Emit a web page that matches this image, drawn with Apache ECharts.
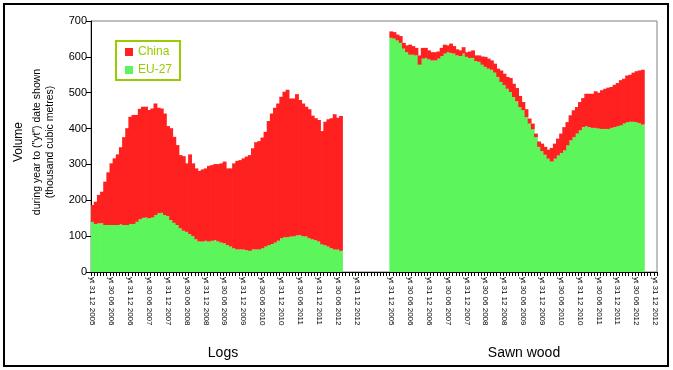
<!DOCTYPE html>
<html><head><meta charset="utf-8">
<script src="https://cdn.jsdelivr.net/npm/echarts@6/dist/echarts.min.js"></script>
<style>html,body{margin:0;padding:0;background:#fff}#c{width:673px;height:370px}</style>
</head><body><div id="c"></div>
<script>
const groups = ['Logs', 'Sawn wood'];
const seriesNames = ['China', 'EU-27'];
const tickLabels = ['yt 31 12 2005','yt 30 06 2006','yt 31 12 2006','yt 30 06 2007','yt 31 12 2007','yt 30 06 2008','yt 31 12 2008','yt 30 06 2009','yt 31 12 2009','yt 30 06 2010','yt 31 12 2010','yt 30 06 2011','yt 31 12 2011','yt 30 06 2012','yt 31 12 2012'];
const monthsPerGroup = 85;
const gapSlots = 10;

const logsEU = [140,134,136,136,131,131,131,131,131,133,131,131,134,134,140,147,151,152,150,152,159,164,165,159,156,145,137,131,122,115,112,106,100,91,85,85,87,85,87,89,85,82,80,75,71,66,63,63,63,61,59,63,63,63,66,71,75,78,82,87,94,97,97,99,100,102,103,100,99,94,91,89,85,77,75,71,66,63,63,59];
const logsChina = [47,62,79,88,121,147,172,186,197,215,245,270,299,304,298,308,310,309,302,304,311,294,291,283,251,256,240,223,204,208,191,222,203,198,197,201,202,211,211,212,216,221,228,214,218,237,247,249,254,261,267,282,299,302,309,320,346,364,376,383,395,406,411,385,384,394,377,370,362,360,345,340,339,316,344,355,363,377,367,376];
const sawnEU = [653,651,646,639,623,613,606,606,604,578,595,597,593,590,590,595,602,609,613,611,609,604,602,609,600,597,597,588,586,578,572,567,564,556,544,530,521,511,502,488,476,460,451,432,414,398,376,349,337,327,316,308,316,325,332,339,353,367,376,386,395,404,407,404,402,402,400,399,399,399,402,404,407,409,414,418,419,419,418,415,411];
const sawnChina = [18,18,16,19,16,19,28,24,21,26,30,28,25,23,23,20,23,25,19,26,21,17,16,18,13,18,21,16,18,23,28,28,26,25,23,32,32,33,39,37,37,31,23,22,14,16,10,15,21,22,25,38,42,47,54,65,65,70,75,74,79,81,90,93,95,102,100,108,112,115,114,118,120,126,125,130,131,137,142,147,153];

// 180-slot category axis: Logs (85) + gap (10) + Sawn wood (85)
const total = monthsPerGroup * 2 + gapSlots;
const off = monthsPerGroup + gapSlots;
const cats = [], labels = [];
for (let i = 0; i < total; i++) {
  cats.push('c' + i);
  let k = -1;
  if (i < monthsPerGroup) k = i;
  else if (i >= off) k = i - off;
  labels.push(k >= 0 && k % 6 === 0 ? tickLabels[k / 6] : '');
}
// stacked segments [category, base, top]
const euRows = [], chinaRows = [];
function addGroup(start, eu, cn) {
  eu.forEach((v, k) => {
    euRows.push([start + k, 0, v]);
    chinaRows.push([start + k, v, v + cn[k]]);
  });
}
addGroup(0, logsEU, logsChina);
addGroup(off, sawnEU, sawnChina);

const FONT = 'Liberation Sans, Arial, sans-serif';
const GREEN = '#5cf55c', RED = '#ff2020';
function barItem(color) {
  return function (params, api) {
    const c = api.value(0);
    const p0 = api.coord([c, api.value(1)]);
    const p1 = api.coord([c, api.value(2)]);
    const w = api.size([1, 0])[0];
    return { type: 'rect', shape: { x: p0[0] - w / 2 - 0.35, y: p1[1], width: w + 0.7, height: p0[1] - p1[1] },
      style: { fill: color } };
  };
}
const chart = echarts.init(document.getElementById('c'));
chart.setOption({
  animation: false,
  textStyle: { fontFamily: FONT },
  grid: { left: 91, right: 16, top: 21, bottom: 98, show: true, borderColor: '#808080', borderWidth: 1 },
  legend: {
    data: seriesNames, orient: 'vertical', left: 116, top: 41,
    padding: [5, 8, 4, 9], itemGap: 6, itemWidth: 8, itemHeight: 8, icon: 'rect',
    borderColor: '#99cc00', borderWidth: 2,
    textStyle: { color: '#99cc00', fontSize: 12, fontFamily: FONT }
  },
  xAxis: {
    type: 'category', data: cats, boundaryGap: true,
    axisLine: { lineStyle: { color: '#000', width: 1 } },
    axisTick: { show: true, interval: 0, length: 4, lineStyle: { color: '#000' } },
    axisLabel: { interval: 0, rotate: -90, fontSize: 8, color: '#000', margin: 5, fontFamily: FONT,
      formatter: (v, i) => labels[i] }
  },
  yAxis: {
    type: 'value', min: 0, max: 700, interval: 100,
    axisLine: { show: true, lineStyle: { color: '#000' } },
    axisTick: { show: true, length: 5, lineStyle: { color: '#000' } },
    splitLine: { show: false },
    axisLabel: { fontSize: 11, color: '#000', margin: 4, fontFamily: FONT }
  },
  series: [
    { name: 'EU-27', type: 'custom', data: euRows, encode: { x: 0, y: [1, 2] }, renderItem: barItem(GREEN),
      itemStyle: { color: GREEN }, clip: true, z: 1 },
    { name: 'China', type: 'custom', data: chinaRows, encode: { x: 0, y: [1, 2] }, renderItem: barItem(RED),
      itemStyle: { color: RED }, clip: true, z: 1 }
  ],
  graphic: [
    { type: 'rect', shape: { x: 4, y: 4, width: 664, height: 362 }, style: { fill: 'none', stroke: '#000', lineWidth: 2 }, silent: true },
    { type: 'text', x: 19, y: 142, rotation: Math.PI / 2, style: { text: 'Volume', fontSize: 12, fontFamily: FONT, fill: '#000', align: 'center', verticalAlign: 'middle' } },
    { type: 'text', x: 37, y: 142, rotation: Math.PI / 2, style: { text: 'during year to ("yt") date shown', fontSize: 10.5, fontFamily: FONT, fill: '#000', align: 'center', verticalAlign: 'middle' } },
    { type: 'text', x: 50, y: 142, rotation: Math.PI / 2, style: { text: '(thousand cubic metres)', fontSize: 10.5, fontFamily: FONT, fill: '#000', align: 'center', verticalAlign: 'middle' } },
    { type: 'text', x: 223, y: 353, style: { text: groups[0], fontSize: 14, fontFamily: FONT, fill: '#000', align: 'center', verticalAlign: 'middle' } },
    { type: 'text', x: 524, y: 353, style: { text: groups[1], fontSize: 14, fontFamily: FONT, fill: '#000', align: 'center', verticalAlign: 'middle' } }
  ]
});
</script></body></html>
